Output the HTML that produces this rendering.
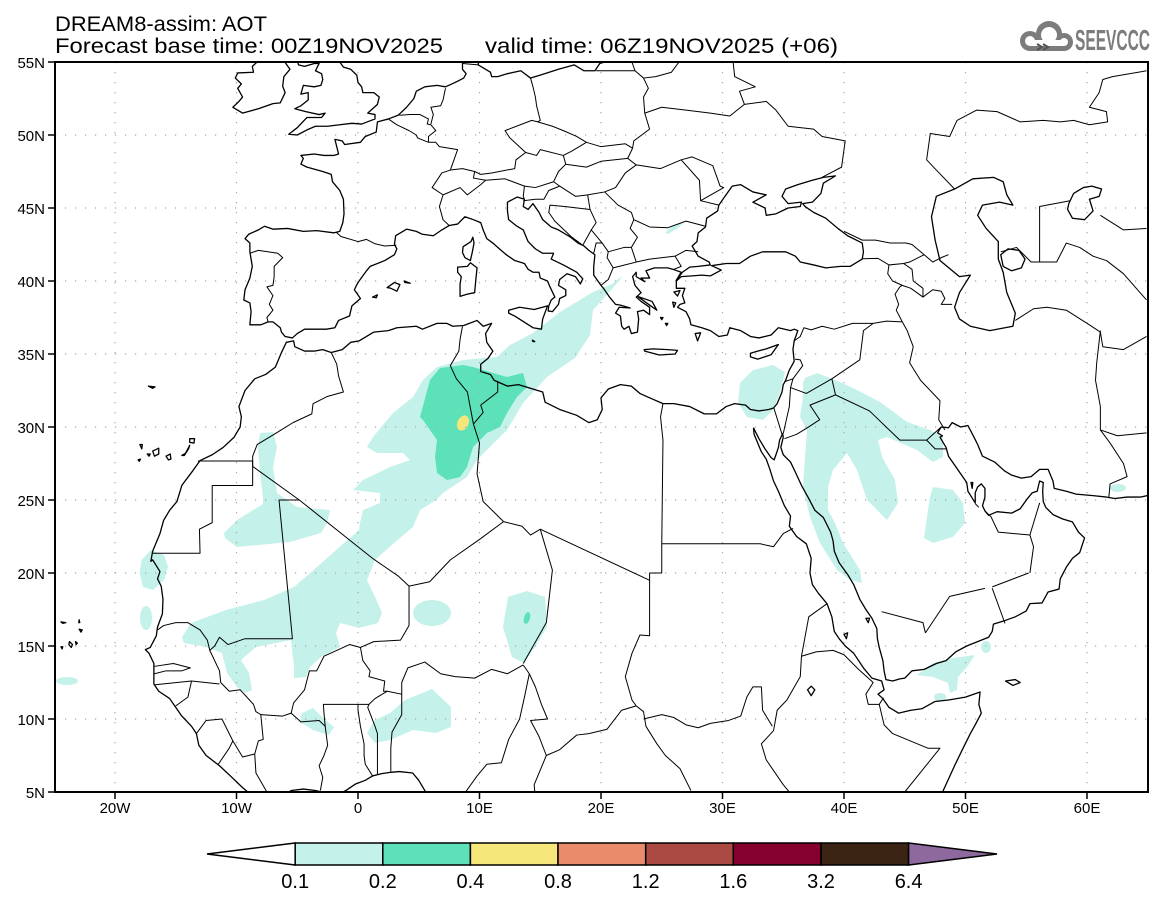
<!DOCTYPE html>
<html><head><meta charset="utf-8"><style>
html,body{margin:0;padding:0;background:#fff;}
svg{display:block;font-family:"Liberation Sans",Arial,sans-serif;}
.m *{vector-effect:non-scaling-stroke;}
</style></head><body>
<svg width="1165" height="905" viewBox="0 0 1165 905" xmlns="http://www.w3.org/2000/svg">
<rect width="1165" height="905" fill="#fff"/>
<defs><clipPath id="c"><rect x="55" y="62" width="1093" height="730"/></clipPath></defs>
<g clip-path="url(#c)">
 <g fill="#c4f1ea" stroke="none">
  <polygon points="622,276 612,284 593,292 560,312 533,333 510,345 497,357 463,360 437,367 423,380 413,397 393,413 373,437 367,447 377,453 403,453 410,460 390,467 363,480 353,490 380,493 380,503 363,510 360,523 359,530 344,543 317,567 294,587 264,600 226,610 191,623 182,637 184,643 206,647 222,653 227,673 237,687 245,693 252,690 249,673 241,660 256,647 291,640 294,667 294,678 306,677 310,667 321,657 340,647 336,633 340,623 359,628 378,623 382,613 375,597 367,580 375,560 394,543 413,527 420,510 436,500 443,493 467,477 477,460 490,447 507,430 523,403 547,377 575,358 590,335 593,310 620,280"/>
  <polygon points="260,433 273,432 277,447 273,467 277,493 297,507 330,510 327,523 321,533 290,542 237,547 225,538 224,533 237,520 263,504 263,497 260,473 258,447"/>
  <polygon points="141.5,560 151,550 164,555 168,567 164,580 153,590 143,587 139.5,573"/>
  <ellipse cx="146" cy="618" rx="6" ry="12"/>
  <ellipse cx="432" cy="613" rx="19" ry="13"/>
  <polygon points="508,597 527,591 545,597 547,627 535,647 524,663 512,657 503,627"/>
  <polygon points="405,700 432,689 451,707 451,727 436,733 413,730 390,740 375,743 367,733 375,720 390,713"/>
  <polygon points="302,713 313,708 325,720 334,727 329,735 313,730 300,722"/>
  <ellipse cx="67" cy="681" rx="11" ry="4"/>
  <polygon points="665,233 673,225 683,223 678,228 668,234"/>
  <polygon points="740,383 753,370 773,365 785,372 780,393 773,410 763,420 747,417 738,403"/>
  <polygon points="805,378 817,373 840,382 857,390 880,402 907,422 930,430 943,437 943,457 933,462 917,450 887,437 878,440 882,457 895,480 898,503 887,520 867,500 857,470 847,453 833,470 828,487 828,510 835,523 843,543 860,570 862,583 850,580 837,570 820,543 810,517 803,487 805,457 807,430 800,417 803,397 803,383"/>
  <polygon points="933,487 953,490 963,503 965,523 953,537 933,543 924,538 927,517 930,497"/>
  <ellipse cx="1118" cy="488" rx="8" ry="4"/>
  <polygon points="917,675 933,663 953,658 975,655 967,667 958,677 957,690 950,693 948,683 933,677"/>
  <ellipse cx="986" cy="647" rx="5" ry="6"/>
  <ellipse cx="940" cy="697" rx="6" ry="4"/>
 </g>
 <polygon fill="#5ce1b9" points="420,417 430,380 440,368 463,365 473,367 493,373 507,377 523,373 527,387 517,397 507,413 500,427 487,433 473,447 467,467 460,477 447,480 437,473 435,457 437,440 423,420"/>
 <ellipse cx="527" cy="618" rx="3" ry="6" fill="#5ce1b9" transform="rotate(15 527 618)"/>
 <ellipse cx="463" cy="423" rx="5.5" ry="8" fill="#f5e67c" transform="rotate(25 463 423)"/>

 <g stroke="#a8a8a8" stroke-width="1.2" stroke-dasharray="1.2 8.8" fill="none">
  <path d="M115,62V792M236.5,62V792M358,62V792M479.5,62V792M601,62V792M722.5,62V792M844,62V792M965.5,62V792M1087,62V792"/>
  <path d="M55,135H1148M55,208H1148M55,281H1148M55,354H1148M55,427H1148M55,500H1148M55,573H1148M55,646H1148M55,719H1148"/>
 </g>

 <g class="m" transform="matrix(12.15 0 0 -14.6 358 865)" fill="none" stroke="#000" stroke-width="1.3" stroke-linejoin="round">
  <polyline points="-7.5,4.3 -8.5,4.6 -9.5,5.3 -10.5,6.1 -11.4,6.8 -12.5,7.5 -13.1,8.2 -13.3,9.0 -13.7,9.5 -14.5,10.2 -15.0,10.8 -15.5,11.4 -16.4,11.9 -16.8,12.4 -16.8,13.3 -16.8,13.8 -17.2,14.5 -17.5,14.75 -17.1,14.9 -16.6,15.7 -16.5,16.3 -16.1,17.2 -16.05,18.2 -16.2,19.1 -16.5,19.6 -16.3,20.1 -16.9,20.9 -17.05,20.8 -16.9,21.5 -16.3,22.7 -16.0,23.6 -15.5,24.3 -14.9,24.9 -14.5,26.0 -13.6,27.0 -13.0,27.7 -12.0,28.1 -11.1,28.6 -10.2,29.3 -9.7,30.0 -9.6,30.7 -9.8,31.4 -9.3,32.5 -8.5,33.3 -7.6,33.6 -6.8,34.1 -6.3,35.1 -5.9,35.8 -5.3,35.9 -5.2,35.5 -4.4,35.2 -3.6,35.2 -2.9,35.3 -2.2,35.1 -1.3,35.3 -0.6,35.8 0.1,35.9 1.3,36.5 2.5,36.6 3.2,36.8 4.8,36.9 5.3,36.7 6.5,37.1 7.3,37.1 7.8,36.9 8.7,36.95 9.8,37.3 10.3,36.9 11.0,37.1 10.5,36.4 10.6,35.8 11.1,35.2 10.7,34.7 10.1,34.3 10.1,33.8 10.9,33.6 11.2,33.2 12.3,32.8 13.2,32.9 15.2,32.4 15.4,31.7 16.6,31.2 18.0,30.8 19.0,30.3 19.7,30.5 20.1,31.2 20.0,32.0 20.6,32.6 21.6,32.9 22.5,32.8 23.2,32.3 24.0,32.0 25.1,31.6 26.0,31.6 27.3,31.4 28.5,30.9 29.5,30.9 30.3,31.4 31.0,31.6 31.9,31.5 32.3,31.2 33.0,31.1 33.8,31.2 34.2,31.3 34.5,31.6 34.9,32.4 35.0,32.9 35.2,33.2 35.5,33.9 35.9,34.5 35.8,35.3 35.9,35.9 36.2,36.6 35.9,36.7 35.6,36.6 34.6,36.8 34.0,36.3 33.0,36.1 32.3,36.2 31.5,36.6 30.6,36.8 30.4,36.3 29.7,36.2 29.0,36.6 28.3,36.8 27.4,37.0 27.3,37.4 27.0,37.9 26.3,38.2 26.5,38.4 26.9,38.5 26.7,39.0 26.9,39.5 26.2,39.5 26.2,40.0 26.6,40.3 27.5,40.35 28.3,40.4 29.0,40.35 29.9,40.75 29.1,41.05 30.3,41.2 31.4,41.2 32.3,41.7 33.3,42.0 34.7,42.0 35.2,42.0 36.0,41.7 36.4,41.3 37.5,41.1 38.5,40.9 39.7,41.0 40.5,41.0 41.5,41.5 41.6,42.0 41.5,42.6 40.3,43.1 39.5,43.6 38.5,44.3 37.5,44.7 36.8,45.1 36.6,45.3 37.4,45.4 38.1,46.0 38.3,46.7 39.3,47.2 38.3,47.1 37.4,46.9 36.2,46.6 35.2,46.3 34.9,45.8 35.4,45.3 36.5,45.4 36.4,45.1 35.4,45.0 34.4,44.6 33.6,44.5 33.5,45.0 32.5,45.4 33.6,45.9 32.5,46.1 31.5,46.6 30.8,46.5 30.2,45.8 29.7,45.2 29.6,44.8 28.7,44.3 28.6,43.7 28.0,43.3 27.9,42.7 27.5,42.4 28.0,41.7 28.9,41.3 29.0,41.1 28.0,41.0 27.3,40.95 26.7,40.6 26.2,40.05 26.6,40.6 26.1,40.75 25.5,40.9 24.4,40.9 23.7,40.7 24.0,40.2 23.3,40.2 23.6,39.95 22.9,40.3 22.9,40.6 22.6,40.3 22.8,39.7 23.3,39.2 22.9,38.9 23.3,38.6 24.0,38.2 24.0,37.7 23.5,38.0 23.0,37.9 23.1,37.4 23.0,36.5 22.5,36.4 22.3,36.9 21.9,36.7 21.7,36.9 21.6,37.6 21.2,37.8 21.5,38.2 22.4,38.15 21.6,38.35 21.2,38.4 20.7,38.9 20.2,39.5 20.0,39.7 19.4,40.4 19.4,41.0 19.5,41.8 19.0,42.1 18.6,42.4 18.1,42.6 17.5,43.0 16.5,43.5 15.9,43.7 15.2,44.2 14.9,44.7 14.4,45.3 14.0,44.9 13.6,45.1 13.7,45.6 13.1,45.75 12.3,45.4 12.3,44.8 12.4,44.2 13.0,43.8 13.6,43.5 14.0,42.7 14.6,42.2 15.2,41.9 16.1,41.9 15.9,41.5 16.9,41.1 18.0,40.6 18.5,40.15 18.3,39.8 17.9,40.3 17.2,40.5 16.6,40.1 16.5,39.7 17.1,39.4 17.1,39.0 16.6,38.8 16.5,38.4 16.0,37.9 15.65,37.95 15.7,38.3 15.9,38.7 16.2,38.9 15.8,39.6 15.6,40.0 15.0,40.2 14.9,40.6 14.4,40.6 14.0,40.8 13.7,41.2 12.9,41.4 12.2,41.8 11.5,42.3 11.1,42.6 10.6,42.9 10.3,43.5 10.1,44.0 9.5,44.2 8.8,44.4 8.2,43.9 7.5,43.8 6.9,43.5 6.2,43.1 5.3,43.2 4.8,43.4 4.0,43.55 3.1,43.1 3.0,42.5 3.2,42.2 3.0,41.8 2.2,41.4 1.0,41.0 0.7,40.7 0.0,39.9 -0.3,39.4 0.2,38.8 -0.5,38.3 -0.7,37.6 -1.6,37.3 -1.9,36.8 -2.6,36.7 -3.5,36.7 -4.4,36.7 -5.0,36.4 -5.4,36.1 -6.0,36.2 -6.3,36.5 -6.4,36.8 -7.0,37.2 -7.4,37.2 -8.0,37.0 -8.9,37.0 -8.8,37.9 -8.9,38.5 -9.4,38.7 -9.3,39.4 -8.9,40.2 -8.7,41.0 -8.9,42.0 -8.9,42.6 -9.3,42.9 -9.0,43.2 -8.2,43.5 -7.7,43.75 -7.0,43.55 -5.8,43.6 -4.5,43.4 -3.4,43.45 -2.0,43.3 -1.5,43.4 -1.25,44.0 -1.15,44.6 -1.2,45.6 -1.5,46.2 -2.1,46.8 -2.2,47.3 -2.9,47.5 -4.2,47.8 -4.7,48.0 -4.5,48.4 -4.7,48.6 -3.6,48.7 -2.8,48.6 -2.0,48.6 -1.6,48.7 -1.9,49.7 -1.3,49.6 -1.1,49.35 0.2,49.5 0.6,49.9 1.5,50.2 1.6,50.9 2.5,51.1 3.3,51.35 4.0,51.9 4.6,52.5 4.8,53.0 5.5,53.3 6.5,53.4 7.2,53.3 8.0,53.6 8.7,53.9 8.9,54.2 8.6,54.5 8.6,55.0 8.6,55.5"/>
  <polyline points="-7.5,4.3 -6.5,4.6 -5.5,5.1 -4.5,5.2 -3.5,5.1 -2.5,4.9 -1.8,4.8 -1.0,5.1 -0.2,5.55 0.6,5.8 1.2,6.1 1.9,6.25 2.7,6.35 3.4,6.4 4.5,6.3 5.0,5.8 5.5,5.1 5.9,4.3 6.5,4.3 7.2,4.4 8.3,4.6 8.9,4.0 9.5,3.8"/>
  <polyline points="9.9,55.5 9.9,54.8 10.9,54.3 11.0,54.0 11.5,54.0 12.3,54.2 13.4,54.4 14.2,53.9 15.0,54.1 16.5,54.5 17.8,54.8 18.6,54.4 19.5,54.4 19.9,54.9 21.1,55.2 21.1,56"/>
  <polyline points="32.55,29.95 32.6,29.5 33.2,28.3 33.6,27.8 33.9,27.1 34.2,26.3 34.6,25.6 35.1,24.6 35.6,23.9 35.5,23.2 36.1,22.5 36.9,22.0 37.3,21.0 37.2,20.0 37.4,19.2 37.9,18.6 38.6,17.9 39.0,17.0 39.2,16.0 39.6,15.5 40.1,15.0 40.8,14.5 41.6,13.5 42.3,12.8 43.1,12.6 43.3,12.0 42.8,11.7 43.2,11.4 43.7,10.8 44.5,10.4 45.5,10.6 46.4,10.7 47.5,11.2 48.6,11.3 50.0,11.5 51.2,11.85 51.1,11.0 51.3,10.4 50.8,9.6 50.4,9.0 49.8,8.0 49.1,6.8 48.5,5.7 48.0,4.8"/>
  <polyline points="32.55,29.95 33.0,29.2 33.5,28.5 34.0,27.9 34.25,27.75 34.4,28.1 34.6,28.6 34.7,29.1 34.95,29.55 35.0,29.3 34.8,28.6 35.0,28.1 35.6,27.6 36.0,26.9 36.5,26.0 37.1,25.1 37.6,24.3 38.3,23.8 38.9,22.8 39.1,22.2 39.2,21.5 39.6,20.7 40.3,19.9 40.8,19.2 41.3,18.2 41.8,17.5 42.3,16.9 42.7,16.2 42.75,15.5 42.9,14.9 43.2,14.0 43.3,13.3 43.45,12.7 44.0,12.6 44.6,12.75 45.0,12.8 45.6,13.3 46.6,13.4 47.6,13.8 48.4,14.0 49.2,14.6 50.1,15.0 51.0,15.3 51.9,15.6 52.2,16.0 52.3,16.5 53.1,16.7 54.1,17.0 55.0,17.4 55.3,17.9 56.3,17.95 56.8,18.7 57.7,18.9 57.8,19.6 58.3,20.4 58.8,21.0 59.4,21.4 59.8,22.4 59.3,22.8 58.8,23.5 58.0,23.7 57.2,24.0 56.6,24.5 56.4,24.9 56.35,25.6 56.4,26.2 56.1,26.3 55.9,25.6 55.5,25.5 55.1,25.1 54.5,24.4 53.8,24.1 52.6,24.2 51.9,23.95 51.6,24.25 51.4,24.6 51.6,25.2 51.6,25.8 51.3,26.1 51.0,25.9 50.8,25.5 50.8,24.8 50.5,25.2 50.2,25.6 50.1,26.2 49.6,26.8 49.1,27.4 48.6,28.0 48.4,28.6 47.9,29.3 48.1,29.4 47.7,29.6 48.0,30.0 48.6,29.95 48.9,30.3 49.6,30.0 50.2,30.1 50.7,29.3 51.0,28.8 51.4,28.0 52.4,27.6 53.2,27.0 53.8,26.7 54.6,26.5 55.4,26.6 56.1,27.1 56.8,27.1 57.2,26.3 57.3,25.8 58.3,25.6 59.1,25.4 60.5,25.3 61.6,25.2 62.3,25.1 63.3,25.2 64.4,25.2 65.5,25.4"/>
  <polyline points="-5.0,55.2 -4.9,54.8 -4.4,54.7 -3.6,54.9 -3.2,54.9 -3.5,54.4 -3.0,54.2 -2.9,53.8 -3.05,53.4 -3.6,53.3 -4.5,53.4 -4.7,52.8 -4.1,52.9 -4.1,52.4 -4.7,52.0 -5.2,51.8 -4.3,51.6 -3.2,51.4 -2.7,51.5 -3.0,51.2 -4.2,51.2 -5.0,50.5 -5.7,50.05 -5.0,50.0 -4.2,50.35 -3.5,50.6 -2.5,50.6 -1.5,50.7 -0.5,50.8 0.3,50.75 1.4,51.1 1.4,51.4 0.8,51.5 1.2,51.8 1.6,52.1 1.75,52.6 1.3,52.9 0.4,52.9 0.3,53.3 0.0,53.6 -0.1,54.1 -0.6,54.5 -1.2,54.65 -1.5,55.0 -1.6,55.5"/>
  <polygon points="-6.2,53.35 -6.0,52.9 -6.4,52.2 -7.0,52.15 -8.2,51.8 -9.5,51.5 -10.3,51.9 -9.8,52.3 -9.5,52.6 -9.9,53.2 -9.6,53.5 -10.1,53.9 -9.9,54.25 -8.6,54.3 -8.7,54.7 -8.3,55.0 -7.3,55.35 -6.2,55.2 -5.6,54.5 -6.1,54.0"/>
  <polygon points="49.1,46.3 47.6,45.8 47.2,44.4 47.5,42.8 47.9,41.4 49.5,40.3 50.4,40.4 49.5,39.2 49.1,38.2 49.5,37.4 50.4,36.9 52.0,36.6 53.9,36.9 54.1,37.8 53.4,39.2 53.1,40.6 52.7,41.5 52.7,42.7 51.7,43.6 51.0,44.5 51.4,45.2 52.8,45.4 53.9,45.2 53.4,45.9 53.1,46.8 52.3,47.1 50.6,47.0"/>
  <polygon points="52.9,41.8 53.5,42.2 54.4,42.1 54.9,41.5 54.6,40.9 53.8,40.7 53.1,41.0"/>
  <polygon points="58.5,45.3 58.9,46.0 59.7,46.4 60.4,46.5 61.2,46.3 61.0,45.8 60.2,45.6 60.5,44.8 59.8,44.2 58.8,44.3 58.4,44.9"/>
  <polygon points="9.45,43.0 9.55,42.6 9.4,41.95 9.25,41.4 8.8,41.6 8.6,41.95 8.65,42.35 9.3,42.7"/>
  <polygon points="9.25,41.25 9.8,40.9 9.7,40.1 9.6,39.2 9.0,39.1 8.4,38.95 8.4,39.8 8.5,40.3 8.2,40.6 8.2,40.95 9.0,41.0"/>
  <polygon points="12.4,38.0 13.3,38.2 14.5,38.05 15.6,38.3 15.2,37.4 15.1,36.7 14.4,36.8 12.9,37.6 12.4,37.8"/>
  <polygon points="23.55,35.3 24.3,35.35 25.5,35.3 26.3,35.25 26.1,35.0 24.8,34.93 23.6,35.2"/>
  <polygon points="32.3,34.8 32.9,34.65 34.0,34.95 34.6,35.65 33.6,35.35 32.9,35.2 32.3,35.05"/>
  <polygon points="2.4,39.55 3.0,39.9 3.45,39.75 3.2,39.3 2.7,39.5"/>
  <polygon points="3.8,40.0 4.3,39.85 3.85,39.9"/>
  <polygon points="1.2,38.9 1.6,39.05 1.5,38.85"/>
  <polygon points="23.0,38.95 24.2,38.6 24.6,38.0 24.0,38.35"/>
  <polygon points="27.75,36.4 28.2,36.45 27.95,35.9"/>
  <polygon points="26.0,39.25 26.5,39.35 26.3,38.97"/>
  <polygon points="25.9,38.55 26.15,38.5 26.0,38.2"/>
  <polygon points="25.3,37.1 25.5,37.1 25.4,36.95"/>
  <polygon points="24.9,37.5 25.1,37.5 25.0,37.35"/>
  <polygon points="14.35,35.95 14.55,35.85 14.4,35.85"/>
  <polygon points="-17.95,28.8 -17.75,28.8 -17.8,28.5"/>
  <polygon points="-16.9,28.35 -16.4,28.55 -16.4,28.15 -16.75,28.0"/>
  <polygon points="-15.8,28.0 -15.45,28.15 -15.4,27.8 -15.6,27.75"/>
  <polygon points="-14.5,28.05 -14.2,28.2 -13.85,28.75 -13.95,28.5 -14.3,28.05"/>
  <polygon points="-13.85,29.2 -13.45,29.2 -13.5,28.9 -13.85,28.95"/>
  <polygon points="-17.35,28.15 -17.1,28.15 -17.2,28.0"/>
  <polygon points="-18.1,27.75 -17.9,27.8 -18.0,27.65"/>
  <polygon points="-17.25,32.8 -16.7,32.75 -16.9,32.65"/>
  <polygon points="-25.3,17.1 -24.95,17.2 -25.0,16.9"/>
  <polygon points="-25.05,16.9 -24.9,16.9 -24.95,16.8"/>
  <polygon points="-24.45,16.65 -24.05,16.6 -24.3,16.55"/>
  <polygon points="-22.95,16.8 -22.9,16.6 -22.98,16.6"/>
  <polygon points="-22.95,16.15 -22.7,16.1 -22.8,15.95"/>
  <polygon points="-23.25,15.3 -23.1,15.2 -23.2,15.1"/>
  <polygon points="-23.75,15.3 -23.5,15.1 -23.6,14.9 -23.8,15.1"/>
  <polygon points="-24.45,14.95 -24.3,14.95 -24.35,14.8"/>
  <polygon points="53.3,12.6 54.1,12.7 54.5,12.5 53.9,12.3"/>
  <polygon points="50.45,26.2 50.6,26.2 50.55,25.8"/>
  <polygon points="37.0,12.0 37.3,12.25 37.6,12.0 37.3,11.6"/>
  <polygon points="40.0,15.8 40.3,15.9 40.2,15.5"/>
  <polygon points="41.8,16.9 42.1,16.9 42.0,16.6"/>
 </g>
 <g class="m" transform="matrix(12.15 0 0 -14.6 358 865)" fill="none" stroke="#000" stroke-width="1" stroke-linejoin="round">
  <polyline points="-2.2,35.1 -1.75,34.3 -1.6,33.5 -1.2,32.4 -2.5,32.1 -3.7,31.6 -3.8,30.9 -5.35,30.3 -6.7,29.6 -8.3,28.8 -8.67,28.0 -8.67,27.3"/>
  <polyline points="-13.17,27.67 -8.67,27.67 -8.67,25.99 -12.0,25.99 -12.0,23.45 -13.05,23.0 -13.0,21.35 -16.95,21.35"/>
  <polyline points="-8.67,27.3 -4.83,25.0 -6.5,25.0 -5.5,16.4 -5.4,15.5 -9.3,15.5 -10.7,15.1 -11.4,15.6 -11.8,15.0 -12.2,14.7 -12.4,15.4 -13.0,16.1 -14.0,16.6 -15.0,16.6 -16.0,16.4 -16.5,16.1"/>
  <polyline points="-4.83,25.0 1.2,21.0 3.3,19.8 4.2,19.1 5.9,19.4 7.6,20.9 10.0,22.3 11.98,23.52 10.3,24.9 9.8,26.8 10.0,28.9 9.5,30.2 9.0,32.4 8.1,33.3 7.6,34.2 8.3,35.2 8.4,36.0 8.6,36.9"/>
  <polyline points="9.5,30.2 10.3,31.0 10.1,31.5 11.5,32.4 11.5,33.15"/>
  <polyline points="11.98,23.52 13.5,23.2 14.2,22.6 15.0,23.0 24.0,19.5 24.0,20.0 25.0,20.0 25.0,22.0 25.1,29.1 24.9,30.7 25.1,31.6"/>
  <polyline points="25.0,22.0 33.1,22.0 34.2,21.8 35.0,22.7 35.8,23.05"/>
  <polyline points="24.0,19.5 24.0,15.7 23.2,15.75 22.55,14.5 22.0,12.9 22.55,11.3 22.9,10.9"/>
  <polyline points="15.0,23.0 16.0,20.2 15.5,16.6 13.6,13.8"/>
  <polyline points="4.2,19.1 4.2,16.4 3.5,15.4 1.3,15.3 0.2,14.9 -0.7,15.1 -2.0,14.6 -2.8,14.3 -3.4,13.3 -4.0,13.3 -4.4,12.0 -5.3,11.1 -5.5,10.4"/>
  <polyline points="0.2,14.9 0.4,14.0 1.0,13.3 0.9,12.9 2.2,12.6 2.1,11.9 2.4,11.9 3.6,11.7 3.6,12.5 4.1,13.5 5.5,13.9 6.8,13.1 8.0,12.9 9.6,12.8 11.0,13.4 12.3,13.1 13.6,13.7"/>
  <polyline points="-5.5,10.4 -4.7,9.8 -3.2,9.9 -2.7,9.5 -2.8,10.4 -2.85,11.0 0.0,11.0 0.9,11.0 1.4,11.4 2.4,11.9"/>
  <polyline points="2.7,6.4 2.7,8.0 2.8,9.1 3.6,10.3 3.6,11.7"/>
  <polyline points="1.6,6.2 1.6,7.0 1.6,9.0 1.4,9.5 0.8,10.8 0.9,11.0"/>
  <polyline points="1.2,6.1 0.6,6.9 0.5,7.5 0.5,8.3 0.2,9.5 0.0,10.6 0.0,11.0"/>
  <polyline points="-3.1,5.1 -2.9,6.0 -3.2,6.8 -2.8,7.5 -2.5,8.2 -2.7,9.5"/>
  <polyline points="-7.5,4.4 -7.5,5.0 -8.4,6.3 -8.5,7.6 -8.2,8.5 -7.8,8.6 -8.0,10.3 -6.2,10.2 -5.5,10.4"/>
  <polyline points="-8.0,10.3 -8.4,10.5 -8.6,11.0 -9.7,12.0 -10.6,11.9 -11.3,12.5 -11.4,13.3 -12.2,14.7"/>
  <polyline points="-11.5,6.9 -10.6,8.0 -10.3,8.5 -9.5,7.4 -8.5,7.6"/>
  <polyline points="-13.3,9.0 -12.5,9.9 -11.2,10.0 -10.3,8.5"/>
  <polyline points="-15.0,10.9 -14.0,11.5 -13.7,12.6 -16.7,12.35"/>
  <polyline points="-13.7,12.6 -11.4,12.4"/>
  <polyline points="-16.8,13.6 -15.2,13.8 -13.8,13.5 -14.5,13.3 -15.8,13.3 -16.75,13.1"/>
  <polyline points="13.6,13.7 14.1,13.1 13.7,11.5 13.3,10.0 12.4,8.6 11.8,7.0 10.6,6.9 9.8,6.1 8.6,4.7"/>
  <polyline points="14.1,13.1 14.6,12.2 15.1,11.0 15.6,10.0 14.2,9.9 14.9,8.8 15.5,7.5 16.6,7.9 18.0,8.9 19.0,9.0 20.5,9.3 21.7,10.6 22.9,10.9"/>
  <polyline points="15.5,7.5 14.5,5.5 14.6,4.5"/>
  <polyline points="22.9,10.9 23.5,10.5 23.7,9.5 24.6,8.3 25.3,7.5 26.5,6.6 27.4,5.1"/>
  <polyline points="23.5,10.0 25.0,10.3 26.0,10.1 27.0,9.6 28.0,9.4 29.0,9.7 30.5,9.9 31.5,10.2 32.0,11.5 32.5,12.2 33.2,12.2 33.3,10.6 34.1,9.5"/>
  <polyline points="38.6,17.9 37.1,17.0 36.5,14.3 36.4,12.9 35.3,11.3 34.5,10.6 34.2,9.2 33.2,8.3 33.6,7.2 35.0,5.5 35.9,4.6"/>
  <polyline points="36.5,14.3 37.7,14.6 39.1,14.7 40.0,14.4 41.2,13.4 42.4,12.5 41.8,11.7 42.0,11.0 42.9,11.0 43.25,11.45"/>
  <polyline points="42.9,11.0 43.3,9.6 44.0,9.0 46.9,8.0 47.9,8.0 45.0,5.0 44.0,4.5"/>
  <polyline points="34.22,31.32 34.9,29.5"/>
  <polyline points="35.0,29.55 35.5,31.4 35.6,32.7 36.9,32.3 39.0,33.3 41.3,34.6 41.6,36.6 42.4,37.1"/>
  <polyline points="35.1,33.1 35.8,33.3 35.6,32.7"/>
  <polyline points="35.97,34.65 36.4,34.6 36.6,34.2 35.8,33.3"/>
  <polyline points="39.0,33.3 39.3,32.2 37.2,31.5 38.0,30.5 36.9,29.9 36.1,29.5 35.1,29.2"/>
  <polyline points="39.3,32.2 42.1,31.1 44.6,29.1 46.8,29.1 47.6,29.7 48.0,30.0"/>
  <polyline points="46.8,29.1 47.5,28.5 48.4,28.5"/>
  <polyline points="35.9,35.9 36.4,36.2 36.7,36.8 37.3,36.65 38.2,36.9 39.2,36.7 40.7,37.1 42.4,37.1 43.5,37.25 44.8,37.2"/>
  <polyline points="44.8,37.2 45.2,36.6 45.7,35.5 45.4,34.4 46.3,33.2 47.9,31.8 47.8,30.5 48.3,29.8"/>
  <polyline points="44.8,37.2 44.3,38.0 44.5,38.4 44.2,39.1 44.6,39.6 44.8,39.7 44.0,40.0 43.6,40.5 43.7,41.1 42.8,41.55 41.55,41.52"/>
  <polyline points="40.0,43.4 41.5,42.8 42.6,42.8 43.8,42.6 45.1,42.6 45.6,42.5 46.6,41.8 45.4,41.3 44.9,41.2 43.7,41.1"/>
  <polyline points="44.9,41.2 45.6,40.8 45.7,40.0 46.5,39.5 46.5,38.9"/>
  <polyline points="44.8,39.7 45.5,39.5 46.5,38.9 47.3,39.4 48.0,39.3 48.3,38.8 48.0,38.4 48.9,38.4"/>
  <polyline points="46.6,41.8 47.3,41.3 48.0,41.6 48.6,41.8"/>
  <polyline points="49.1,46.3 47.6,47.6 46.8,48.3 47.1,50.1 48.7,49.9 49.3,51.0 50.9,51.7 52.6,51.6 54.5,50.9 56.4,51.0 57.8,50.9 58.9,51.0 60.2,50.7 61.7,50.9 61.6,51.6 60.2,51.9 61.0,52.9 61.3,53.8 62.1,54.0 64.9,54.4"/>
  <polyline points="56.1,41.3 56.1,45.1 58.6,45.5"/>
  <polyline points="61.1,44.5 63.0,43.5 64.9,43.6"/>
  <polyline points="52.9,42.0 54.2,42.3 55.4,41.3 56.1,41.3 57.5,41.3 58.3,42.6 59.4,42.3 60.5,41.7 61.6,41.4 63.0,40.5 64.9,38.7"/>
  <polyline points="54.1,37.3 55.6,38.1 56.7,38.2 58.3,38.0 60.0,37.1 61.1,36.5 61.3,35.5 63.0,35.3 64.9,36.2"/>
  <polyline points="61.1,36.6 60.8,34.4 60.7,33.2 61.1,31.4 61.1,29.8 61.9,28.9 63.0,27.5 63.3,26.6 61.9,26.1 61.8,25.2"/>
  <polyline points="61.1,29.8 62.5,29.4 64.9,29.6"/>
  <polyline points="43.1,17.35 46.5,16.6 46.7,15.9"/>
  <polyline points="46.7,15.9 48.7,18.4 51.6,18.95"/>
  <polyline points="52.2,19.05 55.2,20.0"/>
  <polyline points="52.2,18.95 53.25,16.55"/>
  <polyline points="51.6,24.25 52.1,23.85 52.7,22.8 55.3,22.6 55.6,21.8 55.3,20.0"/>
  <polyline points="55.3,22.6 56.1,24.8"/>
  <polyline points="50.8,24.75 51.1,24.5"/>
  <polyline points="-8.9,41.9 -8.2,42.1 -6.6,41.9 -6.2,41.6 -6.9,41.0 -6.9,40.3 -7.0,39.7 -7.5,39.6 -7.0,39.0 -7.3,38.4 -7.0,38.0 -7.5,37.5 -7.4,37.2"/>
  <polyline points="-1.8,43.35 -1.4,43.05 0.0,42.7 0.7,42.85 1.4,42.55 2.2,42.4 3.15,42.45"/>
  <polyline points="2.5,51.1 3.2,50.7 4.2,50.3 4.8,50.0 4.9,49.8 5.8,49.5 6.4,49.5 6.7,49.2 8.2,49.0 7.6,47.6 6.9,47.4 6.1,46.4 7.0,45.9 6.7,45.1 7.0,44.2 7.5,43.8"/>
  <polyline points="3.4,51.35 4.3,51.4 5.1,51.4 5.8,51.1 5.7,50.75 6.0,50.7 6.4,50.3 6.1,50.1 5.8,49.9 5.8,49.5"/>
  <polyline points="6.0,50.75 6.2,51.4 6.0,51.9 6.8,52.0 7.0,52.4 7.2,53.2"/>
  <polyline points="8.6,54.9 9.9,54.8"/>
  <polyline points="14.2,53.9 14.4,53.3 14.6,52.6 14.7,52.0 15.0,51.0 14.8,50.9 14.3,51.0 12.1,50.3 12.5,49.8 13.8,48.8 13.0,48.3 12.9,47.7 11.0,47.4 10.1,47.3 9.6,47.5 8.6,47.7 7.6,47.6"/>
  <polyline points="7.0,45.9 8.4,46.4 9.0,45.9 10.1,46.6 10.5,46.9 12.1,47.0 13.7,46.5 13.6,45.8 13.7,45.6"/>
  <polyline points="9.6,47.5 9.5,47.05 10.5,46.9"/>
  <polyline points="13.8,48.8 14.7,48.6 15.0,49.0 16.9,48.6 17.1,48.0 16.5,47.5 16.1,46.8 14.6,46.4 13.7,46.5"/>
  <polyline points="13.6,45.5 14.6,45.6 15.3,45.6 15.7,46.2 16.6,46.5 16.1,46.8"/>
  <polyline points="16.6,46.5 17.9,45.8 18.9,45.9 20.3,46.1 21.2,46.4 22.0,47.4 22.9,47.95 22.2,48.4 20.0,48.2 18.8,47.8 17.1,48.0"/>
  <polyline points="16.9,48.6 17.6,48.9 18.8,49.5 20.0,49.2 22.0,49.4 22.6,49.1 22.2,48.4"/>
  <polyline points="14.8,50.9 16.0,50.6 16.9,50.3 18.0,49.9 18.8,49.5"/>
  <polyline points="22.6,49.1 22.7,49.6 24.0,50.4 23.6,51.5 23.5,52.6 23.9,53.2 23.5,53.9 22.8,54.4 19.6,54.4"/>
  <polyline points="22.8,54.4 22.5,55.1 21.2,55.3"/>
  <polyline points="23.5,53.9 24.5,54.0 25.8,54.3 26.6,55.2"/>
  <polyline points="23.6,51.5 25.0,51.9 27.0,51.7 29.0,51.5 30.6,51.3 31.8,52.1 31.4,53.0 32.7,53.3 31.0,54.0 30.8,55.6"/>
  <polyline points="31.8,52.1 33.6,52.3 34.4,51.7 35.4,50.6 37.5,50.4 38.2,49.9 40.1,49.6 40.0,49.0 39.8,47.8 38.2,47.1"/>
  <polyline points="22.9,47.95 24.9,47.7 26.6,48.3 27.5,48.5 29.2,47.9 29.8,46.5 30.1,46.4 28.2,45.5 29.7,45.2"/>
  <polyline points="26.6,48.3 28.1,46.9 28.2,45.5"/>
  <polyline points="20.3,46.1 21.4,45.2 22.5,44.7 22.7,44.2 24.0,43.7 25.5,43.65 27.0,44.1 28.6,43.75"/>
  <polyline points="22.7,44.2 22.4,43.6 23.0,43.0 22.5,42.3 22.9,41.3 24.0,41.5 26.1,41.7 27.0,42.1 28.0,42.0"/>
  <polyline points="26.1,41.7 26.6,41.0 26.0,40.8"/>
  <polyline points="22.9,41.3 21.0,40.9 20.6,40.1 20.0,39.7"/>
  <polyline points="21.0,40.9 20.5,41.6 20.6,42.0 21.9,42.3 22.5,42.3"/>
  <polyline points="20.6,42.0 20.1,42.6 19.6,42.6 19.4,41.9"/>
  <polyline points="20.1,42.6 19.2,43.5 18.5,42.45"/>
  <polyline points="19.2,43.5 19.6,44.0 19.1,44.9 18.9,45.9"/>
  <polyline points="19.1,44.9 17.0,45.1 15.8,45.2 15.7,44.7 16.2,44.1 17.6,43.0 18.5,42.45"/>
 </g>
</g>

<rect x="55" y="62" width="1093" height="730" fill="none" stroke="#000" stroke-width="2"/>
<g stroke="#000" stroke-width="1.5">
 <path d="M48,62H55M48,135H55M48,208H55M48,281H55M48,354H55M48,427H55M48,500H55M48,573H55M48,646H55M48,719H55M48,792H55"/>
 <path d="M115,792V799M236.5,792V799M358,792V799M479.5,792V799M601,792V799M722.5,792V799M844,792V799M965.5,792V799M1087,792V799"/>
</g>
<g font-size="15" fill="#000" text-anchor="end">
 <text x="45" y="68">55N</text><text x="45" y="141">50N</text><text x="45" y="214">45N</text>
 <text x="45" y="287">40N</text><text x="45" y="360">35N</text><text x="45" y="433">30N</text>
 <text x="45" y="506">25N</text><text x="45" y="579">20N</text><text x="45" y="652">15N</text>
 <text x="45" y="725">10N</text><text x="45" y="798">5N</text>
</g>
<g font-size="15" fill="#000" text-anchor="middle">
 <text x="115" y="813">20W</text><text x="236.5" y="813">10W</text><text x="358" y="813">0</text>
 <text x="479.5" y="813">10E</text><text x="601" y="813">20E</text><text x="722.5" y="813">30E</text>
 <text x="844" y="813">40E</text><text x="965.5" y="813">50E</text><text x="1087" y="813">60E</text>
</g>

<g font-size="21" fill="#000">
 <text x="55" y="31" textLength="212" lengthAdjust="spacingAndGlyphs">DREAM8-assim: AOT</text>
 <text x="55" y="53" textLength="388" lengthAdjust="spacingAndGlyphs">Forecast base time: 00Z19NOV2025</text>
 <text x="485" y="53" textLength="353" lengthAdjust="spacingAndGlyphs">valid time: 06Z19NOV2025 (+06)</text>
</g>

<g>
 <g fill="#7c7c7c">
  <circle cx="1030" cy="41" r="10"/>
  <circle cx="1049" cy="34" r="13"/>
  <circle cx="1064" cy="42" r="9"/>
  <rect x="1026" y="40" width="40" height="11" rx="4"/>
 </g>
 <g fill="#fff">
  <circle cx="1030" cy="41" r="5"/>
  <circle cx="1049" cy="35" r="8"/>
  <circle cx="1064" cy="42" r="4"/>
  <rect x="1030" y="40" width="34" height="6"/>
 </g>
 <path d="M1037,44 l5,3 l-5,3 M1043,44 l5,3 l-5,3" stroke="#555" stroke-width="2" fill="none"/>
 <text x="1075" y="50" font-size="29" font-weight="bold" fill="#7c7c7c" textLength="75" lengthAdjust="spacingAndGlyphs">SEEVCCC</text>
</g>

<g stroke="#000" stroke-width="1.5">
 <polygon points="207,854 295.2,843 295.2,865" fill="#fff"/>
 <rect x="295.2" y="843" width="87.6" height="22" fill="#c4f1ea"/>
 <rect x="382.8" y="843" width="87.6" height="22" fill="#5ce1b9"/>
 <rect x="470.4" y="843" width="87.6" height="22" fill="#f6e77b"/>
 <rect x="558" y="843" width="87.7" height="22" fill="#ea8b6b"/>
 <rect x="645.7" y="843" width="87.6" height="22" fill="#aa4a43"/>
 <rect x="733.3" y="843" width="87.7" height="22" fill="#85002f"/>
 <rect x="821" y="843" width="87.6" height="22" fill="#3b2414"/>
 <polygon points="908.6,843 997,854 908.6,865" fill="#8d699e"/>
</g>
<g font-size="20" fill="#000" text-anchor="middle">
 <text x="295.2" y="888">0.1</text><text x="382.8" y="888">0.2</text><text x="470.4" y="888">0.4</text>
 <text x="558" y="888">0.8</text><text x="645.7" y="888">1.2</text><text x="733.3" y="888">1.6</text>
 <text x="821" y="888">3.2</text><text x="908.6" y="888">6.4</text>
</g>
</svg>
</body></html>
